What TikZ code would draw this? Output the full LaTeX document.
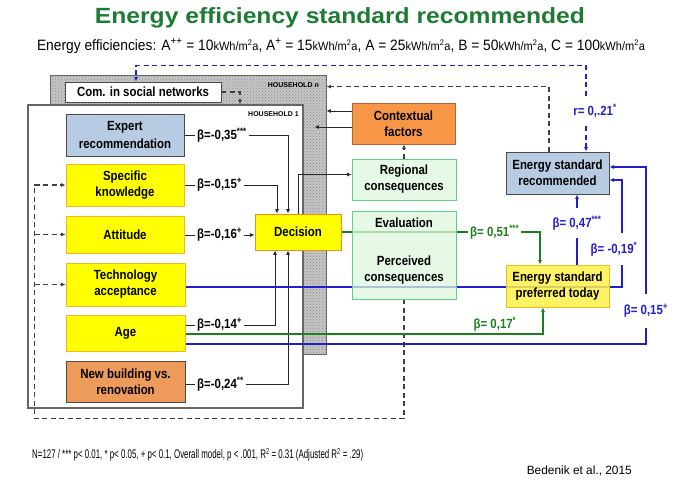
\documentclass[tikz,border=0pt]{standalone}
\usepackage{fontspec}
\setmainfont{Liberation Sans}
\newfontfamily\narrowfont{Liberation Sans}[FakeStretch=0.86]
\usetikzlibrary{arrows.meta,patterns,calc}
\pgfdeclarelayer{hh}
\pgfdeclarelayer{wires}
\pgfsetlayers{hh,wires,main}

\definecolor{titlegreen}{HTML}{1E7B34}
\definecolor{steelbox}{HTML}{B7CBE3}
\definecolor{boxedge}{HTML}{4A4A4A}
\definecolor{ybox}{HTML}{FFFF00}
\definecolor{yedge}{HTML}{F7B32B}
\definecolor{decedge}{HTML}{F08A24}
\definecolor{newbfill}{HTML}{EC9B5B}
\definecolor{ctxfill}{HTML}{F79646}
\definecolor{ctxedge}{HTML}{B5652E}
\definecolor{gfill}{HTML}{DDF7DD}
\definecolor{gedge}{HTML}{5FD08C}
\definecolor{preffill}{HTML}{FFF04A}
\definecolor{prefedge}{HTML}{E8C21A}
\definecolor{wireblue}{HTML}{1F1FCC}
\definecolor{wiregreen}{HTML}{1C801C}

\newcommand{\boxfont}{\narrowfont\fontsize{13.3}{16}\selectfont\bfseries}
\newcommand{\kwh}{{\fontsize{12}{12}\selectfont kWh/m\textsuperscript{2}a}}

\begin{document}
\begin{tikzpicture}[
  x=1pt, y=-1pt, >={Latex[length=4.5pt,width=4pt]},
  box/.style={draw=boxedge, line width=0.8pt, minimum width=118pt, minimum height=42pt,
              align=center, inner sep=1pt, font=\boxfont},
  expbox/.style={box, fill=steelbox},
  yelbox/.style={box, fill=ybox, draw=yedge},
  orgbox/.style={box, fill=newbfill},
  ctxbox/.style={box, fill=ctxfill, draw=ctxedge, minimum width=103pt, minimum height=41pt},
  grnbox/.style={box, fill=gfill, fill opacity=0.75, text opacity=1, draw=gedge,
                 minimum width=104pt, minimum height=41pt},
  coef/.style={font=\boxfont, inner sep=2pt},
  bcoef/.style={coef, text=wireblue},
  gcoef/.style={coef, text=wiregreen},
  wire/.style={draw=black!85, line width=1pt},
  kdash/.style={draw=black!75, line width=1.2pt, dash pattern=on 5pt off 3.5pt},
  bdash/.style={draw=wireblue, line width=1.2pt, dash pattern=on 5pt off 3.5pt},
  bline/.style={draw=wireblue, line width=1.6pt},
  gline/.style={draw=wiregreen, line width=1.4pt}
]
  \useasboundingbox (0,0) rectangle (681,480);

  % headings
  \node[text=titlegreen, inner sep=0pt] (title) at (340,18)
    {\resizebox{490pt}{\height}{\fontsize{22}{26}\selectfont\bfseries Energy efficiency standard recommended}};
  \node[inner sep=0pt] (sub) at (341,46)
    {\resizebox{608pt}{\height}{\fontsize{15}{17}\selectfont Energy efficiencies: A\textsuperscript{++} = 10\kwh, A\textsuperscript{+} = 15\kwh, A = 25\kwh, B = 50\kwh, C = 100\kwh}};

  % households
  \begin{pgfonlayer}{hh}
    \node[draw=black!60, line width=0.8pt, preaction={fill=gray!45}, pattern=crosshatch dots,
          pattern color=black!45, minimum width=276pt, minimum height=279pt, inner sep=0pt] (hhn) at (188,214.5) {};
    \node[draw=gray!80!black, line width=1.2pt, fill=white, minimum width=275pt,
          minimum height=303pt, inner sep=0pt] (hh1) at (165.5,256.5) {};
  \end{pgfonlayer}
  \node[font=\fontsize{7}{8}\selectfont\bfseries, anchor=east, inner sep=0pt] (hhnlab) at (319,85) {HOUSEHOLD \textit{n}};
  \node[font=\fontsize{7}{8}\selectfont\bfseries, anchor=east, inner sep=0pt] (hh1lab) at (299,114) {HOUSEHOLD 1};

  % boxes
  \node[box, fill=white, minimum width=156pt, minimum height=20pt] (com) at (143,92) {Com. in social networks};
  \node[expbox] (expert) at (125,135) {Expert\\[2pt]recommendation};
  \node[yelbox] (spec) at (125,185) {Specific\\knowledge};
  \node[yelbox, minimum height=37pt] (att) at (125,234.5) {Attitude};
  \node[yelbox, minimum width=119pt, minimum height=43pt] (tech) at (125.5,284.5) {Technology\\acceptance};
  \node[yelbox, minimum width=119pt, minimum height=36pt] (age) at (125.5,333) {Age};
  \node[orgbox, minimum width=119pt, minimum height=41pt] (newb) at (125.5,381.5) {New building vs.\\renovation};
  \node[yelbox, draw=decedge, minimum width=86pt, minimum height=36pt] (dec) at (298,232) {Decision};
  \node[ctxbox] (ctx) at (403.5,123.5) {Contextual\\factors};
  \node[grnbox] (reg) at (404,179.5) {Regional\\consequences};
  \node[grnbox, minimum height=88pt] (pcons) at (404,255) {};
  \node[font=\boxfont] (evtxt) at (404,223) {Evaluation};
  \node[font=\boxfont, align=center] (pctxt) at (404,270.5) {Perceived\\consequences};
  \node[expbox, minimum width=103pt] (rec) at (557.5,173) {Energy standard\\recommended};
  \node[box, fill=preffill, fill opacity=0.85, text opacity=1, draw=prefedge,
        minimum width=103pt] (pref) at (557.5,286) {Energy standard\\preferred today};

  % coefficients
  \node[coef, anchor=west] (bexp)  at (195,135)   {β=-0,35\textsuperscript{***}};
  \node[coef, anchor=west] (bspec) at (195,185)   {β=-0,15\textsuperscript{+}};
  \node[coef, anchor=west] (batt)  at (195,235)   {β=-0,16\textsuperscript{+}};
  \node[coef, anchor=west] (bage)  at (195,325)   {β=-0,14\textsuperscript{+}};
  \node[coef, anchor=west] (bnew)  at (195,384)   {β=-0,24\textsuperscript{**}};
  \node[gcoef, anchor=west] (b51)  at (468,232)   {β= 0,51\textsuperscript{***}};
  \node[gcoef] (b17) at (495,324)  {β= 0,17\textsuperscript{*}};
  \node[bcoef, inner ysep=8pt] (b47) at (577,223) {β= 0,47\textsuperscript{***}};
  \node[bcoef, inner ysep=9pt] (b19) at (614,249) {β= -0,19\textsuperscript{*}};
  \node[bcoef, inner ysep=10pt] (b15) at (646,311) {β= 0,15\textsuperscript{+}};
  \node[bcoef, inner ysep=8pt] (rlab) at (595,111) {r= 0,.21\textsuperscript{*}};

  % notes
  \node[anchor=west, inner sep=0pt] (note) at (32,455)
    {\resizebox{331pt}{\height}{\fontsize{12.5}{13}\selectfont N=127 / *** p< 0.01, * p< 0.05, + p< 0.1, Overall model, p < .001, R\textsuperscript{2} = 0.31 (Adjusted R\textsuperscript{2} = .29)}};
  \node[anchor=east, inner sep=0pt] (cite) at (632,471)
    {\resizebox{105pt}{\height}{\fontsize{12}{13}\selectfont Bedenik et al., 2015}};

  \begin{pgfonlayer}{wires}
    % into the decision
    \draw[wire] (expert.east) -- (bexp.west);
    \draw[wire,->] (bexp.east) -| ([xshift=-10pt]dec.north);
    \draw[wire] (spec.east) -- (bspec.west);
    \draw[wire,->] (bspec.east) -| ([xshift=-21pt]dec.north);
    \draw[wire] (att.east |- batt.west) -- (batt.west);
    \draw[wire,->] (batt.east) -- (batt.east -| dec.west);
    \draw[wire] (age.east |- bage.west) -- (bage.west);
    \draw[wire,->] (bage.east) -| ([xshift=-23pt]dec.south);
    \draw[wire] (newb.east |- bnew.west) -- (bnew.west);
    \draw[wire,->] (bnew.east) -| ([xshift=-10pt]dec.south);
    \draw[wire,->] (dec.north) |- ([yshift=5pt]reg.west);
    % context
    \draw[wire,->] ([yshift=12.5pt]ctx.west) -- ([yshift=12.5pt]ctx.west -| hhn.east);
    \draw[wire,->] ([yshift=-3.5pt]ctx.west) -- ([yshift=-3.5pt,xshift=-12pt]ctx.west -| hhn.east);
    \draw[kdash,->] (reg.north) -- (reg.north |- ctx.south);
    % feedback loops
    \draw[kdash,->] (com.east) -| ([xshift=74.5pt]hh1.north);
    \draw[kdash,->] ([xshift=-8.5pt]rec.north) |- ([yshift=-12pt]hhn.north east);
    \draw[bdash,->] ([xshift=-9pt]rlab.north) |- ([yshift=9pt]hhn.north) -| ([xshift=-7pt]com.north);
    \draw[bdash,->] ([xshift=-9pt]rlab.south) -- ([xshift=-9pt]rlab.south |- rec.north);
    \draw[kdash,->] (pcons.south) |- ([xshift=7pt,yshift=-10pt]hh1.south west) |- (spec.west);
    \draw[kdash,->] ([xshift=-31pt]att.west) -- (att.west);
    \draw[kdash,->] ([xshift=-31pt]tech.west) -- (tech.west);
    % to the energy standards
    \draw[gline] (dec.east) -- (dec.east -| b51.west);
    \draw[gline,->] (b51.east) -| ([xshift=-17.5pt]pref.north);
    \draw[gline,->] ([yshift=-1pt]age.east) -| ([xshift=-14.5pt]pref.south);
    \draw[bline] (b47.south |- pref.north) -- (b47.south);
    \draw[bline,->] (b47.north) -- (b47.north |- rec.south);
    \draw[bline] ([yshift=-2.5pt]tech.east) -| ([xshift=8pt]b19.south);
    \draw[bline,->] ([xshift=8pt]b19.north) |- ([yshift=-7pt]rec.east);
    \draw[bline] ([yshift=-11pt]age.east) -| (b15.south);
    \draw[bline,->] (b15.north) |- ([yshift=6pt]rec.east);
  \end{pgfonlayer}
\end{tikzpicture}
\end{document}
